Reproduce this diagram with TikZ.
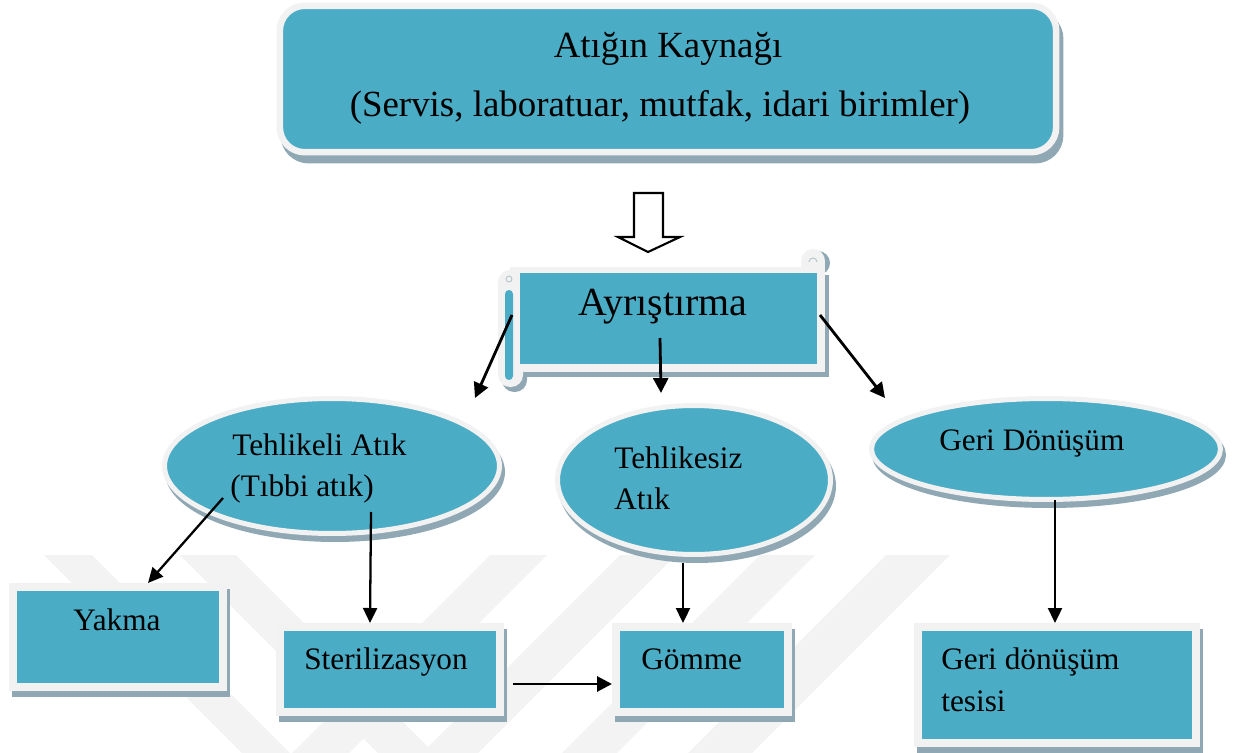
\documentclass[tikz,border=0pt]{standalone}
\usepackage{fontspec}
\setmainfont{Liberation Serif}
\usetikzlibrary{arrows.meta,shapes.geometric}
\definecolor{teal1}{HTML}{4BACC6}
\definecolor{bord}{HTML}{F2F2F2}
\definecolor{shad}{HTML}{8FA8B4}
\definecolor{wm}{HTML}{F3F3F3}
\tikzset{
  tbox/.style={rectangle, fill=teal1, draw=bord, line width=0.16cm, inner sep=0pt,
    preaction={fill=shad, draw=shad, line width=0.16cm, transform canvas={xshift=0.06cm,yshift=-0.12cm}}},
  topbox/.style={rectangle, rounded corners=0.5cm, fill=teal1, draw=bord, line width=0.13cm, inner sep=0pt,
    preaction={fill=shad, draw=shad, line width=0.13cm, transform canvas={xshift=0.08cm,yshift=-0.16cm}}},
  ell/.style={ellipse, fill=teal1, draw=bord, line width=0.1cm, inner sep=0pt,
    preaction={fill=shad, draw=shad, line width=0.1cm, transform canvas={xshift=0.06cm,yshift=-0.12cm}}},
  lbl/.style={anchor=base west, inner sep=0pt, font=\fontsize{17.8}{20}\selectfont},
  arr/.style={-{Triangle[length=0.3cm,width=0.28cm]}, line width=1.3pt},
  arrb/.style={-{Triangle[length=0.3cm,width=0.3cm]}, line width=1.6pt},
}
\begin{document}
\begin{tikzpicture}[x=0.02cm,y=-0.02cm]
\useasboundingbox (0,0) rectangle (1241,753);
% watermark
\begin{scope}
\fill[wm] (44,555) -- (92,555) -- (290,753) -- (242,753) -- cycle;
\fill[wm] (180,555) -- (236,555) -- (434,753) -- (378,753) -- cycle;
\fill[wm] (490,555) -- (547,555) -- (349,753) -- (292,753) -- cycle;
\fill[wm] (620,555) -- (676,555) -- (478,753) -- (422,753) -- cycle;
\fill[wm] (760,555) -- (815,555) -- (617,753) -- (562,753) -- cycle;
\fill[wm] (886,555) -- (950,555) -- (752,753) -- (688,753) -- cycle;
\end{scope}
% top box
\node[topbox, minimum width=15.53cm, minimum height=2.93cm] (src) at (668,79) {};
\node[anchor=base, inner sep=0pt, font=\fontsize{21}{24}\selectfont] (srcA) at (668,58) {Atığın Kaynağı};
\node[anchor=base, inner sep=0pt, font=\fontsize{21}{24}\selectfont] (srcB) at (660,117) {(Servis, laboratuar, mutfak, idari birimler)};
% hollow arrow
\draw[line width=1.2pt, fill=white, line join=miter] (634,193) -- (663,193) -- (663,237) -- (680,237) -- (648,252) -- (618,237) -- (634,237) -- cycle;
% scroll
\fill[shad] (506,275) rectangle (829,377);
\fill[shad] (818,263) circle (0.24cm);
\fill[shad, rounded corners=0.24cm] (502,280) rectangle (527,392);
\fill[bord] (510,267) rectangle (825,372);
\fill[bord] (813,261) circle (0.24cm);
\fill[bord] (801,262) rectangle (825,272);
\fill[bord, rounded corners=0.24cm] (498,270) rectangle (523,387);
\fill[teal1, rounded corners=0.08cm] (505,290) rectangle (513,380);
\draw[shad!70, line width=0.5pt] (509,279) circle (0.06cm);
\draw[shad!70, line width=0.5pt] (809,262) arc (180:0:0.08cm);
\node[fill=teal1, inner sep=0pt, minimum width=5.94cm, minimum height=1.82cm] (ayr) at (668.5,318.5) {};
\node[anchor=base, inner sep=0pt, font=\fontsize{22.7}{26}\selectfont] (ayrT) at (663,316) {Ayrıştırma};
% ellipses
\node[ell, minimum width=6.70cm, minimum height=2.70cm] (tehl) at (332,466) {};
\node[ell, minimum width=5.46cm, minimum height=2.98cm] (tsiz) at (694,480) {};
\node[ell, minimum width=6.98cm, minimum height=2.02cm] (geri) at (1046,449) {};
\node[lbl] (tehlA) at (232,455) {Tehlikeli Atık};
\node[lbl] (tehlB) at (230,496) {(Tıbbi atık)};
\node[lbl] (tsizA) at (614,468) {Tehlikesiz};
\node[lbl] (tsizB) at (614,509) {Atık};
\node[lbl] (geriA) at (939,450) {Geri Dönüşüm};
% boxes
\node[tbox, minimum width=4.20cm, minimum height=2.00cm] (yakma) at (118,637) {};
\node[tbox, minimum width=4.40cm, minimum height=1.70cm] (steril) at (390,669.5) {};
\node[tbox, minimum width=3.44cm, minimum height=1.70cm] (gomme) at (702,669.5) {};
\node[tbox, minimum width=5.56cm, minimum height=2.32cm] (tesis) at (1057,685) {};
\node[lbl] (yakmaT) at (73,630) {Yakma};
\node[lbl] (sterilT) at (304,669) {Sterilizasyon};
\node[lbl] (gommeT) at (641,669) {Gömme};
\node[lbl] (tesisA) at (941,669) {Geri dönüşüm};
\node[lbl] (tesisB) at (941,711) {tesisi};
% connector end points
\coordinate (aL) at (512,315);
\coordinate (aLt) at (475,398);
\coordinate (aM) at (660,338);
\coordinate (aMt) at (661,393);
\coordinate (aR) at (820,315);
\coordinate (aRt) at (885,398);
\coordinate (tY) at (223,498);
\coordinate (tS) at (371,512);
\coordinate (zG) at (683,563);
\coordinate (gT) at (1055,500);
\coordinate (sG) at (513,684);
% connectors
\draw[arrb] (aL) -- (aLt);
\draw[arrb] (aM) -- (aMt);
\draw[arrb] (aR) -- (aRt);
\draw[arr] (tY) -- (yakma.north -| 148,0);
\draw[arr] (tS) -- (steril.north -| 370,0);
\draw[arr] (zG) -- (gomme.north -| zG);
\draw[arr] (gT) -- (tesis.north -| gT);
\draw[arrb] (sG) -- (gomme.west |- sG);
\end{tikzpicture}
\end{document}
